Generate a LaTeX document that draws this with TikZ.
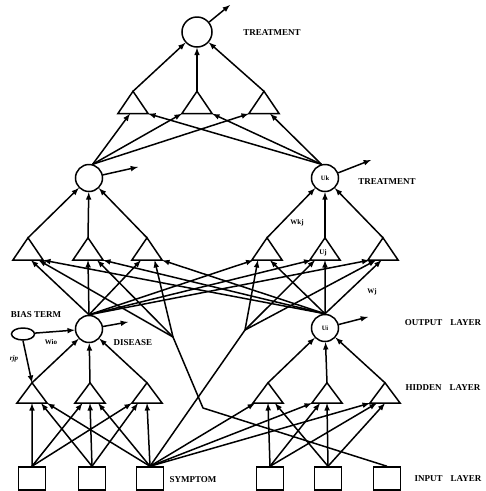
\documentclass[tikz,border=0pt]{standalone}
\usepackage{fontspec}
\setmainfont{Liberation Serif}
\usetikzlibrary{calc,shapes.geometric}

\tikzset{
  unit/.style={circle, draw, line width=1.5pt, minimum size=27pt, inner sep=0pt, font=\fontsize{6.5}{7}\selectfont\bfseries},
  tri/.style={rectangle, minimum width=30pt, minimum height=20pt, inner sep=0pt},
  inbox/.style={rectangle, draw, line width=1.5pt, minimum width=27pt, minimum height=23pt, inner sep=0pt},
  link/.style={line width=1.5pt, -latex},
  wire/.style={line width=1.5pt},
  lbl/.style={font=\fontsize{9}{10}\selectfont\bfseries, inner sep=0pt},
  sm/.style={font=\fontsize{7}{8}\selectfont\bfseries, inner sep=0pt}
}

\begin{document}
\begin{tikzpicture}[x=1pt,y=-1pt]
\useasboundingbox (0,0) rectangle (486,491);

\node[unit, minimum size=30pt] (top) at (197,32) {};
\foreach \n/\x in {T1/133, T2/197, T3/264} \node[tri, minimum height=22pt] (\n) at (\x,102.5) {};
\node[unit] (K1) at (89,178) {};
\node[unit] (K2) at (325,178) {Uk};
\foreach \n/\x in {J1/28, J2/88, J3/147, J4/267, J5/325, J6/383} \node[tri, minimum height=22pt] (\n) at (\x,249) {};
\node[unit] (O1) at (89,329) {};
\node[unit] (O2) at (325,328) {Ui};
\foreach \n/\x in {H1/32, H2/90, H3/147, H4/268, H5/327, H6/385} \node[tri] (\n) at (\x,393) {};
\foreach \n/\x in {I1/32, I2/92, I3/150, I4/270, I5/328, I6/387} \node[inbox] (\n) at (\x,478.5) {};
\node[draw, ellipse, line width=1.5pt, minimum width=23pt, minimum height=12pt, inner sep=0pt] (bias) at (23,334) {};

\foreach \n in {T1,T2,T3,J1,J2,J3,J4,J5,J6,H1,H2,H3,H4,H5,H6}
  \draw[wire, line join=miter] (\n.south west) -- (\n.north) -- (\n.south east) -- cycle;

% input layer -> hidden layer
\foreach \i/\h/\f in {I1/H1/0.5, I1/H2/0.25, I1/H3/0, I2/H1/0.8, I2/H2/0.5, I2/H3/0.2,
    I3/H1/1, I3/H2/0.77, I3/H3/0.5, I3/H4/0.07, I3/H5/0, I3/H6/0,
    I4/H4/0.5, I4/H5/0.27, I4/H6/0.23, I5/H4/0.73, I5/H5/0.5, I5/H6/0.5}
  \draw[link] (\i.north) -- ($(\h.south west)!\f!(\h.south east)$);
\foreach \h in {H1,H2,H3} \draw[link] (\h.north) -- (O1);
\foreach \h in {H4,H5,H6} \draw[link] (\h.north) -- (O2);

% bias term
\draw[link] (bias) -- (O1);
\draw[link] (bias.south) -- (H1.north);

% output layer -> treatment net
\foreach \t/\a/\b in {J1/0.6/1, J2/0.5/1, J3/0.3/1, J4/0.05/0.6, J5/0.05/0.5, J6/0.05/0.45} {
  \draw[link] (O1.north) -- ($(\t.south west)!\a!(\t.south east)$);
  \draw[link] (O2.north) -- ($(\t.south west)!\b!(\t.south east)$);
}
\coordinate (V1) at (173,337);
\coordinate (V2) at (245,330);
\coordinate (bend) at (203,408);
\draw[wire, line join=round] (I6.north) -- (bend) -- (V1);
\draw[wire] (I3.north) -- (V2);
\foreach \t/\f in {J1/0.85, J2/0.8, J3/0.75} \draw[link] (V1) -- ($(\t.south west)!\f!(\t.south east)$);
\foreach \t/\f in {J4/0.2, J5/0.17, J6/0.27} \draw[link] (V2) -- ($(\t.south west)!\f!(\t.south east)$);

\foreach \j in {J1,J2,J3} \draw[link] (\j.north) -- (K1);
\foreach \j in {J4,J5,J6} \draw[link] (\j.north) -- (K2);
\foreach \t/\a/\b in {T1/0.4/1, T2/0/1, T3/0/0.7} {
  \draw[link] (K1.75) -- ($(\t.south west)!\a!(\t.south east)$);
  \draw[link] (K2.105) -- ($(\t.south west)!\b!(\t.south east)$);
}
\foreach \t in {T1,T2,T3} \draw[link] (\t.north) -- (top);

% outputs
\coordinate (outtop) at (230,5);
\coordinate (outK1) at (138,167);
\coordinate (outK2) at (371,160);
\coordinate (outO1) at (128,322);
\coordinate (outO2) at (368,317);
\draw[link] (top) -- (outtop);
\draw[link] (K1) -- (outK1);
\draw[link] (K2) -- (outK2);
\draw[link] (O1) -- (outO1);
\draw[link] (O2) -- (outO2);

% labels
\node[lbl] (ltreat) at (272,33) {TREATMENT};
\node[lbl] (ltreat2) at (387,182) {TREATMENT};
\node[lbl] (lout) at (443,323) {OUTPUT\hspace{8pt}LAYER};
\node[lbl] (lhid) at (443,388) {HIDDEN\hspace{8pt}LAYER};
\node[lbl] (linp) at (448,479) {INPUT\hspace{8pt}LAYER};
\node[lbl] (lsym) at (193,480) {SYMPTOM};
\node[lbl] (ldis) at (133,343) {DISEASE};
\node[lbl] (lbias) at (36,315) {BIAS TERM};
\node[sm] (lwio) at (51,342) {Wio};
\node[sm, font=\fontsize{7}{8}\selectfont\bfseries\itshape] (lrjp) at (14,359) {rjp};
\node[sm] (lwkj) at (297,223) {Wkj};
\node[sm] (luj) at (323,253) {Uj};
\node[sm] (lwj) at (372,292) {Wj};

\end{tikzpicture}
\end{document}
